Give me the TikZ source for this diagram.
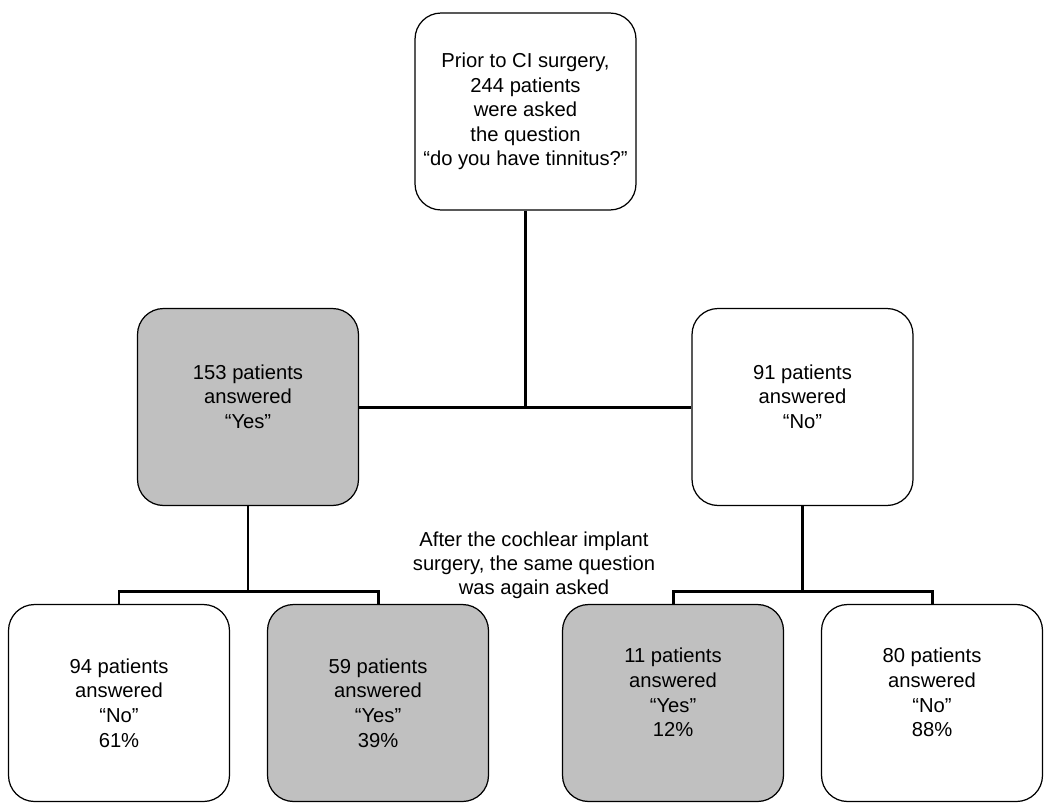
\documentclass[tikz,border=0pt]{standalone}
\usepackage{fontspec}
\setmainfont{Liberation Sans}
\definecolor{answergray}{RGB}{192,192,192}
\begin{document}
\begin{tikzpicture}[x = .02cm, y = -.02cm,
		box/.style = {draw, line width = .7pt, rounded corners = .52cm, align = center,
			minimum width = 4.42cm, minimum height = 3.94cm, inner sep = 0pt,
			font = \fontsize{11.5}{14}\selectfont},
		yesbox/.style = {box, fill = answergray},
		lifted/.style = {text depth = 12pt},
		link/.style = {line width = 1.7pt}]
	\useasboundingbox (0,0) rectangle (1050,808);
	\node[box] (asked) at (525.5,111.5) {Prior to CI surgery,\\ 244 patients\\ were asked\\ the question\\ “do you have tinnitus?”};
	\node[yesbox, lifted] (yes) at (248,407) {153 patients\\ answered\\ “Yes”};
	\node[box, lifted] (no) at (802.5,407) {91 patients\\ answered\\ “No”};
	\node[box] (yesno) at (119,703) {94 patients\\ answered\\ “No”\\ 61\%};
	\node[yesbox] (yesyes) at (378,703) {59 patients\\ answered\\ “Yes”\\ 39\%};
	\node[yesbox, lifted] (noyes) at (673,703) {11 patients\\ answered\\ “Yes”\\ 12\%};
	\node[box, lifted] (nono) at (932,703) {80 patients\\ answered\\ “No”\\ 88\%};
	\node[align = center, font = \fontsize{11.5}{13.6}\selectfont] (again) at (534,565) {After the cochlear implant\\ surgery, the same question\\ was again asked};
	\coordinate (yessplit) at (248,591); %left branch
	\coordinate (nosplit) at (802.5,591); %right branch
	\draw[link] (yes.east) -- (no.west);
	\draw[link] (asked.south) -- (asked.south |- yes.east);
	\draw[link] (yes.south) -- (yessplit);
	\draw[link] (yesno.north) |- (yessplit) -| (yesyes.north);
	\draw[link] (no.south) -- (nosplit);
	\draw[link] (noyes.north) |- (nosplit) -| (nono.north);
\end{tikzpicture}
\end{document}
